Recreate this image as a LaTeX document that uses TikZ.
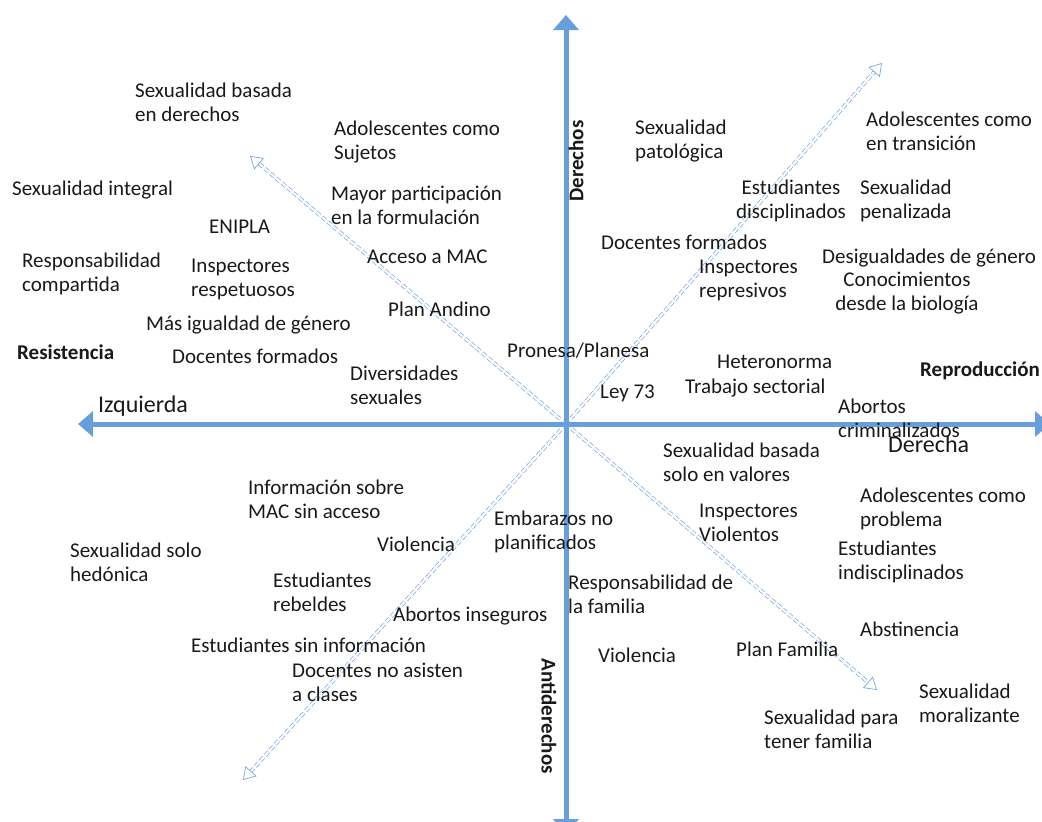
\documentclass[tikz,border=0pt]{standalone}
\usepackage{fontspec}
\setmainfont{Carlito}
\usetikzlibrary{math}
\usetikzlibrary{arrows.meta}

\definecolor{axisblue}{RGB}{104,158,218}
\definecolor{diagblue}{RGB}{122,165,220}
\definecolor{txt}{RGB}{25,25,25}

\tikzset{
  axis/.style={line width=5pt, color=axisblue, -{Triangle[width=25pt,length=15pt]}},
  diag/.style={draw=diagblue, line width=0.7pt, double=white, double distance=2.2pt,
    dash pattern=on 5pt off 2.5pt, -{Triangle[open,width=15pt,length=12pt]}},
  lbl/.style={anchor=west, align=left, inner sep=0pt, text=txt,
    font=\fontsize{21}{24}\selectfont},
  clbl/.style={lbl, anchor=center, align=center},
  side/.style={lbl, font=\fontsize{24}{27}\selectfont},
  pole/.style={lbl, font=\fontsize{21}{24}\selectfont\bfseries}
}

\begin{document}
\begin{tikzpicture}[x=1pt, y=-1pt]
          \tikzmath{
            \cx=566;
            \cy=424;}
          \useasboundingbox (0,0) rectangle (1042,822);
          \coordinate (o) at (\cx,\cy);
          \coordinate (top) at (\cx,15);
          \coordinate (bot) at (\cx,834);
          \coordinate (lft) at (78,\cy);
          \coordinate (rgt) at (1050,\cy);
          \coordinate (ne) at (882,63);
          \coordinate (sw) at (243,780);
          \coordinate (nw) at (250,156);
          \coordinate (se) at (877,690);
          \draw[diag] (o) -- (ne);
          \draw[diag] (o) -- (sw);
          \draw[diag] (o) -- (nw);
          \draw[diag] (o) -- (se);
          \draw[axis] (o) -- (top);
          \draw[axis] (o) -- (bot);
          \draw[axis] (o) -- (lft);
          \draw[axis] (o) -- (rgt);
%         axis names
          \node[pole, rotate=90, anchor=center] (derechos) at (576,161) {Derechos};
          \node[pole, rotate=-90, anchor=center] (antiderechos) at (549,716) {Antiderechos};
          \node[pole] (resistencia) at (17,352) {Resistencia};
          \node[pole] (reproduccion) at (920,371) {Reproducción};
          \node[side] (izquierda) at (98,406) {Izquierda};
          \node[side] (derecha) at (888,444) {Derecha};
%         upper left
          \node[lbl] (sbd) at (135,102) {Sexualidad basada\\en derechos};
          \node[lbl] (acs) at (334,142) {Adolescentes como\\Sujetos};
          \node[lbl] (si) at (12,190) {Sexualidad integral};
          \node[lbl] (mpf) at (331,205) {Mayor participación\\en la formulación};
          \node[lbl] (enipla) at (209,227) {ENIPLA};
          \node[lbl] (mac) at (367,257) {Acceso a MAC};
          \node[lbl] (rc) at (22,274) {Responsabilidad\\compartida};
          \node[lbl] (ir) at (191,279) {Inspectores\\respetuosos};
          \node[lbl] (pa) at (388,309) {Plan Andino};
          \node[lbl] (mig) at (146,325) {Más igualdad de género};
          \node[lbl] (df1) at (172,356) {Docentes formados};
          \node[lbl] (pp) at (507,351) {Pronesa/Planesa};
          \node[lbl] (ds) at (350,385) {Diversidades\\sexuales};
%         upper right
          \node[lbl] (sp) at (635,141) {Sexualidad\\patológica};
          \node[lbl] (act) at (866,131) {Adolescentes como\\en transición};
          \node[clbl] (ed) at (791,201) {Estudiantes\\disciplinados};
          \node[lbl] (spz) at (860,201) {Sexualidad\\penalizada};
          \node[lbl] (df2) at (601,242) {Docentes formados};
          \node[lbl] (dg) at (822,258) {Desigualdades de género};
          \node[lbl] (irp) at (699,280) {Inspectores\\represivos};
          \node[clbl] (cb) at (907,293) {Conocimientos\\desde la biología};
          \node[lbl] (hn) at (717,362) {Heteronorma};
          \node[lbl] (ts) at (685,388) {Trabajo sectorial};
          \node[lbl] (ley) at (600,393) {Ley 73};
          \node[lbl] (ac) at (838,418) {Abortos\\criminalizados};
%         lower right
          \node[lbl] (sbv) at (663,462) {Sexualidad basada\\solo en valores};
          \node[lbl] (acp) at (860,509) {Adolescentes como\\problema};
          \node[lbl] (iv) at (699,523) {Inspectores\\Violentos};
          \node[lbl] (ei) at (838,562) {Estudiantes\\indisciplinados};
          \node[lbl] (rf) at (568,594) {Responsabilidad de\\la familia};
          \node[lbl] (abs) at (860,629) {Abstinencia};
          \node[lbl] (pf) at (736,649) {Plan Familia};
          \node[lbl] (v2) at (598,655) {Violencia};
          \node[lbl] (sm) at (919,703) {Sexualidad\\moralizante};
          \node[lbl] (stf) at (764,729) {Sexualidad para\\tener familia};
%         lower left
          \node[lbl] (ims) at (248,499) {Información sobre\\MAC sin acceso};
          \node[lbl] (enp) at (494,532) {Embarazos no\\planificados};
          \node[lbl] (ssh) at (70,562) {Sexualidad solo\\hedónica};
          \node[lbl] (v1) at (377,544) {Violencia};
          \node[lbl] (er) at (273,592) {Estudiantes\\rebeldes};
          \node[lbl] (ai) at (393,616) {Abortos inseguros};
          \node[lbl] (esi) at (191,645) {Estudiantes sin información};
          \node[lbl] (dna) at (292,682) {Docentes no asisten\\a clases};
        \end{tikzpicture}
\end{document}
